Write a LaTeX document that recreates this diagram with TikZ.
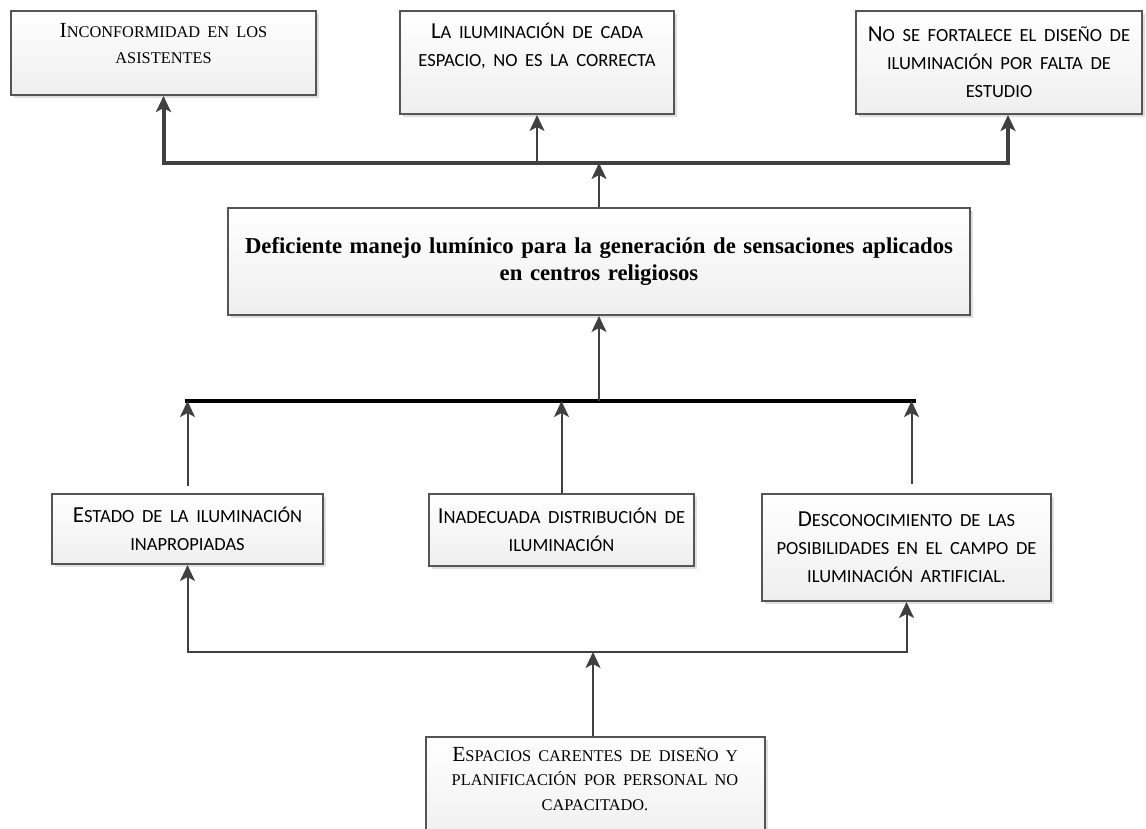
\documentclass[tikz,border=0pt]{standalone}
\usepackage{fontspec}
\setmainfont{Liberation Serif}
\newfontfamily\calibri{Carlito}
\usetikzlibrary{arrows.meta,shadows}

\definecolor{linegray}{HTML}{404040}
\definecolor{boxgray}{HTML}{555555}

% fake small caps: rest of the word in smaller capitals
\newcommand{\lcsize}{9}
\newcommand{\lowsc}[1]{{\fontsize{\lcsize}{14}\selectfont\MakeUppercase{#1}}}

\tikzset{
  box/.style={draw=boxgray, line width=1bp, top color=white, bottom color=gray!13,
    drop shadow={shadow xshift=1.5bp, shadow yshift=-1.5bp, opacity=0.25, fill=gray},
    align=center, inner sep=0pt},
  sansbox/.style={box, font=\calibri\fontsize{11.5}{14}\selectfont\def\lcsize{9.3}},
  serifbox/.style={box, font=\fontsize{10.8}{13.5}\selectfont\def\lcsize{8.2}},
  arr/.style={-{Stealth[length=8bp,width=7.5bp,inset=2bp]}, draw=linegray, line width=1bp},
  twoarr/.style={arr, {Stealth[length=8bp,width=7.5bp,inset=2bp]}-{Stealth[length=8bp,width=7.5bp,inset=2bp]}},
}

\begin{document}
\begin{tikzpicture}[x=0.5bp, y=-0.5bp]
  \path[use as bounding box, fill=white] (0,0) rectangle (1146,828);

  % effects
  \node[serifbox, text width=152.5bp, minimum height=42bp] (incon) at (163.5,53)
    {I\lowsc{nconformidad en los}\\ \lowsc{asistentes}\par\kern9.5bp};
  \node[sansbox, text width=137bp, minimum height=51.5bp] (ilum) at (537,62.5)
    {L\lowsc{a iluminación de cada}\\ \lowsc{espacio, no es la correcta}\par\kern16.5bp};
  \node[sansbox, text width=143bp, minimum height=51.5bp] (fortal) at (999,62.5)
    {N\lowsc{o se fortalece el diseño de}\\ \lowsc{iluminación por falta de}\\ \lowsc{estudio}};

  % central problem
  \node[box, font=\bfseries\fontsize{11.4}{13.5}\selectfont, text width=371bp, minimum height=53.5bp] (defic) at (599,261.5)
    {Deficiente manejo lumínico para la generación de sensaciones aplicados\\ en centros religiosos};

  % causes
  \node[sansbox, text width=135.5bp, minimum height=35bp] (estado) at (187.5,529)
    {E\lowsc{stado de la iluminación}\\ \lowsc{inapropiadas}};
  \node[sansbox, text width=132.5bp, minimum height=36bp] (inadec) at (561.5,530)
    {I\lowsc{nadecuada distribución de}\\ \lowsc{iluminación}};
  \node[sansbox, text width=144.5bp, minimum height=53.5bp] (descon) at (906.5,547.5)
    {D\lowsc{esconocimiento de las}\\ \lowsc{posibilidades en el campo de}\\ \lowsc{iluminación artificial.}};

  % root cause
  \node[serifbox, font=\fontsize{10.8}{12.5}\selectfont\def\lcsize{8.2}, text width=169.5bp, minimum height=55bp] (espac) at (595,792)
    {E\lowsc{spacios carentes de diseño y}\\ \lowsc{planificación por personal no}\\ \lowsc{capacitado.}\par\kern13bp};

  % bars
  \coordinate (topbar) at (598,163);
  \coordinate (lowbar) at (598,401);
  \coordinate (basebar) at (593,652);

  % upper connectors
  \draw[twoarr, line width=2bp] (incon.south) -- (incon.south |- topbar)
    -- ([xshift=4.5bp]fortal.south |- topbar) -- ([xshift=4.5bp]fortal.south);
  \draw[arr] (ilum.south |- topbar) -- (ilum.south);
  \draw[arr] (defic.north) -- (defic.north |- topbar);

  % lower connectors
  \draw[black, line width=2bp] ([xshift=-1.5bp]estado.north |- lowbar) -- ([xshift=4.5bp]descon.north |- lowbar);
  \draw[arr] (defic.south |- lowbar) -- (defic.south);
  \draw[arr] ([yshift=3.5bp]estado.north) -- (estado.north |- lowbar);
  \draw[arr] (inadec.north) -- (inadec.north |- lowbar);
  \draw[arr] ([xshift=2.5bp,yshift=4.5bp]descon.north) -- ([xshift=2.5bp]descon.north |- lowbar);

  % root connectors
  \draw[twoarr] (estado.south) |- (basebar) -| (descon.south);
  \draw[arr] (espac.north -| basebar) -- (basebar);
\end{tikzpicture}
\end{document}
